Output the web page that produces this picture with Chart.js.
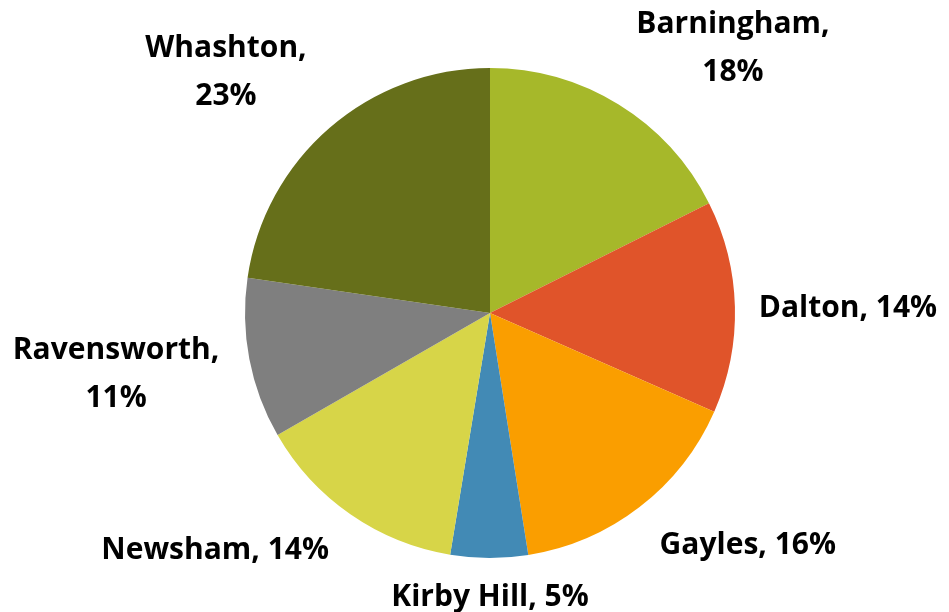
<!DOCTYPE html>
<html>
<head>
<meta charset="utf-8">
<script src="https://cdn.jsdelivr.net/npm/chart.js@4"></script>
<style>
  html, body { margin: 0; padding: 0; background: #fff; }
  #wrap { width: 949px; height: 612px; position: relative; }
</style>
</head>
<body>
<div id="wrap"><canvas id="myChart"></canvas></div>
<script>
// DATA
const villages = ["Barningham", "Dalton", "Gayles", "Kirby Hill", "Newsham", "Ravensworth", "Whashton"];
const shares = [17.6, 14.0, 15.9, 5.1, 14.1, 10.6, 22.7];

const colours = ["#a6b82a", "#e0542a", "#fa9e00", "#428ab5", "#d7d548", "#7f7f7f", "#666f1a"];

// label placement: angle from 12 o'clock (deg), distance in radii, wrap after comma
const labelAngle = [42.6, 89.2, 132.0, 180, 229.2, 260.6, 312.3];
const labelDist = [1.465, 1.461, 1.416, 1.159, 1.482, 1.547, 1.457];
const labelWrap = [true, false, false, false, false, true, true];

const outsideLabels = {
  id: "outsideLabels",
  afterDatasetsDraw(chart) {
    const c = chart.ctx;
    const arcs = chart.getDatasetMeta(0).data;
    const total = shares.reduce((a, b) => a + b, 0);
    c.save();
    c.fillStyle = "#000";
    c.font = "bold 30px 'Open Sans'";
    c.textAlign = "center";
    c.textBaseline = "middle";
    arcs.forEach((arc, i) => {
      const r = arc.outerRadius * labelDist[i];
      const a = (labelAngle[i] - 90) * Math.PI / 180;
      const x = arc.x + Math.cos(a) * r;
      const y = arc.y + Math.sin(a) * r;
      const pct = Math.round(shares[i] / total * 100) + "%";
      if (labelWrap[i]) {
        c.fillText(villages[i] + ",", x, y - 24);
        c.fillText(pct, x, y + 24);
      } else {
        c.fillText(villages[i] + ", " + pct, x, y);
      }
    });
    c.restore();
  }
};

const ctx = document.getElementById("myChart");

new Chart(ctx, {
  type: "pie",
  data: {
    labels: villages,
    datasets: [
      {
        data: shares,
        backgroundColor: colours,
        borderWidth: 0,
      },
    ],
  },
  options: {
    responsive: true,
    maintainAspectRatio: false,
    animation: false,
    layout: { padding: { top: 68, bottom: 54, left: 31, right: 0 } },
    plugins: {
      legend: { display: false },
      tooltip: { enabled: false },
    },
  },
  plugins: [outsideLabels],
});
</script>
</body>
</html>
